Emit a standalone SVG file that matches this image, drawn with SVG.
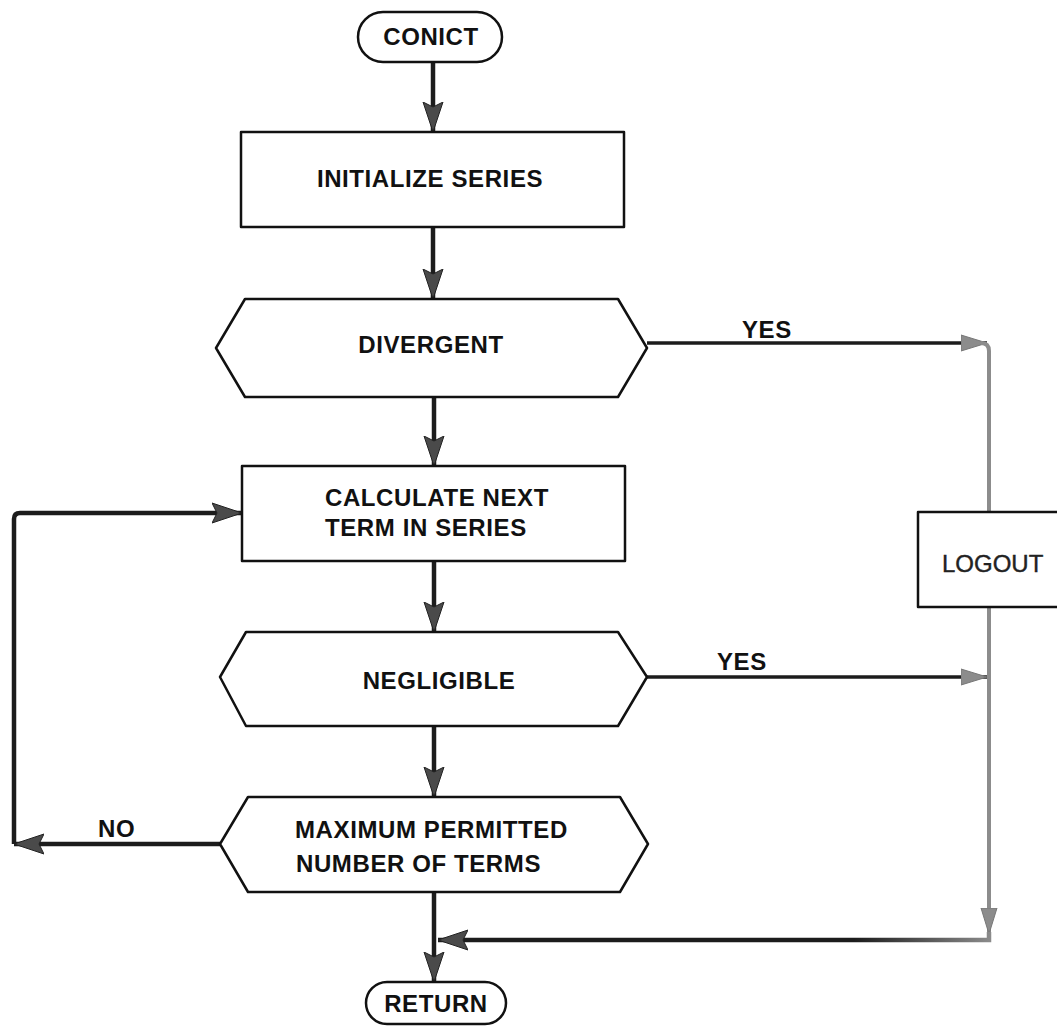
<svg xmlns="http://www.w3.org/2000/svg" width="1057" height="1028" viewBox="0 0 1057 1028">
  <style>
    .shape { fill: #fff; stroke: #111; stroke-width: 2.5; stroke-linejoin: round; }
    .lbl { font-family: "Liberation Sans", Arial, sans-serif; font-weight: bold; font-size: 24px; letter-spacing: 0.6px; fill: #111; }
    .mid { text-anchor: middle; }
    .flow { fill: none; stroke: #1c1c1c; stroke-width: 4.5; stroke-linejoin: round; }
    .thin { fill: none; stroke: #1c1c1c; stroke-width: 3.5; stroke-linejoin: round; }
    .grey { fill: none; stroke: #8c8c8c; stroke-width: 4; stroke-linejoin: round; }
  </style>
  <defs>
    <marker id="ah" markerUnits="userSpaceOnUse" markerWidth="32" markerHeight="22" refX="30" refY="11" orient="auto">
      <path d="M0,1 L30,11 L0,21 L5,11 Z" fill="#4a4a4a" stroke="#222" stroke-width="1"/>
    </marker>
    <marker id="ahg" markerUnits="userSpaceOnUse" markerWidth="28" markerHeight="18" refX="26" refY="9" orient="auto">
      <path d="M0,1 L26,9 L0,17 Z" fill="#8c8c8c" stroke="#777" stroke-width="1"/>
    </marker>
    <linearGradient id="fade" gradientUnits="userSpaceOnUse" x1="440" y1="0" x2="992" y2="0">
      <stop offset="0.75" stop-color="#1c1c1c"/>
      <stop offset="1" stop-color="#8c8c8c"/>
    </linearGradient>
  </defs>

  <!-- connectors -->
  <g id="connectors">
    <!-- main column -->
    <line class="flow" x1="433" y1="62" x2="433" y2="132" marker-end="url(#ah)"/>
    <line class="flow" x1="433" y1="227" x2="433" y2="299" marker-end="url(#ah)"/>
    <line class="flow" x1="434" y1="397" x2="434" y2="466" marker-end="url(#ah)"/>
    <line class="flow" x1="434" y1="561" x2="434" y2="632" marker-end="url(#ah)"/>
    <line class="flow" x1="434" y1="726" x2="434" y2="797" marker-end="url(#ah)"/>
    <line class="flow" x1="434" y1="892" x2="434" y2="982" marker-end="url(#ah)"/>
    <!-- YES branches to LOGOUT -->
    <line class="thin" x1="647" y1="343" x2="987" y2="343" marker-end="url(#ahg)"/>
    <line class="thin" x1="647" y1="677" x2="987" y2="677" marker-end="url(#ahg)"/>
    <!-- LOGOUT trunk -->
    <path class="grey" d="M981,343 Q989,343 989,351 L989,934" marker-end="url(#ahg)"/>
    <path fill="none" stroke="url(#fade)" stroke-width="4.5" d="M989,932 L989,940 L438,940" marker-end="url(#ah)"/>
    <!-- NO loop -->
    <line class="flow" x1="220" y1="844" x2="14" y2="844" marker-end="url(#ah)"/>
    <path class="flow" d="M14,844 L14,519 Q14,513 20,513 L242,513" marker-end="url(#ah)"/>
  </g>

  <g id="conict">
    <rect class="shape" x="358" y="12" width="144" height="50" rx="25"/>
    <text class="lbl mid" x="431" y="45">CONICT</text>
  </g>

  <g id="initialize">
    <rect class="shape" x="241" y="132" width="383" height="95"/>
    <text class="lbl mid" x="430" y="187">INITIALIZE SERIES</text>
  </g>

  <g id="divergent">
    <polygon class="shape" points="216,348 245,299 618,299 647,348 618,397 245,397"/>
    <text class="lbl mid" x="431" y="353">DIVERGENT</text>
    <text class="lbl" x="742" y="338">YES</text>
  </g>

  <g id="calculate">
    <rect class="shape" x="242" y="466" width="383" height="95"/>
    <text class="lbl" x="325" y="506">CALCULATE NEXT</text>
    <text class="lbl" x="325" y="536">TERM IN SERIES</text>
  </g>

  <g id="negligible">
    <polygon class="shape" points="220,677 246,632 618,632 647,677 618,726 246,726"/>
    <text class="lbl mid" x="439" y="689">NEGLIGIBLE</text>
    <text class="lbl" x="717" y="670">YES</text>
  </g>

  <g id="maximum">
    <polygon class="shape" points="220,844 248,797 620,797 648,844 620,892 248,892"/>
    <text class="lbl" x="295" y="838">MAXIMUM PERMITTED</text>
    <text class="lbl" x="296" y="872">NUMBER OF TERMS</text>
    <text class="lbl" x="98" y="837">NO</text>
  </g>

  <g id="logout">
    <rect class="shape" x="918" y="512" width="160" height="95"/>
    <text class="lbl" x="942" y="572" style="font-weight:normal;letter-spacing:0px;fill:#222;stroke:#222;stroke-width:0.4">LOGOUT</text>
  </g>

  <g id="return">
    <rect class="shape" x="366" y="982" width="140" height="42" rx="21"/>
    <text class="lbl mid" x="436" y="1012">RETURN</text>
  </g>
</svg>
